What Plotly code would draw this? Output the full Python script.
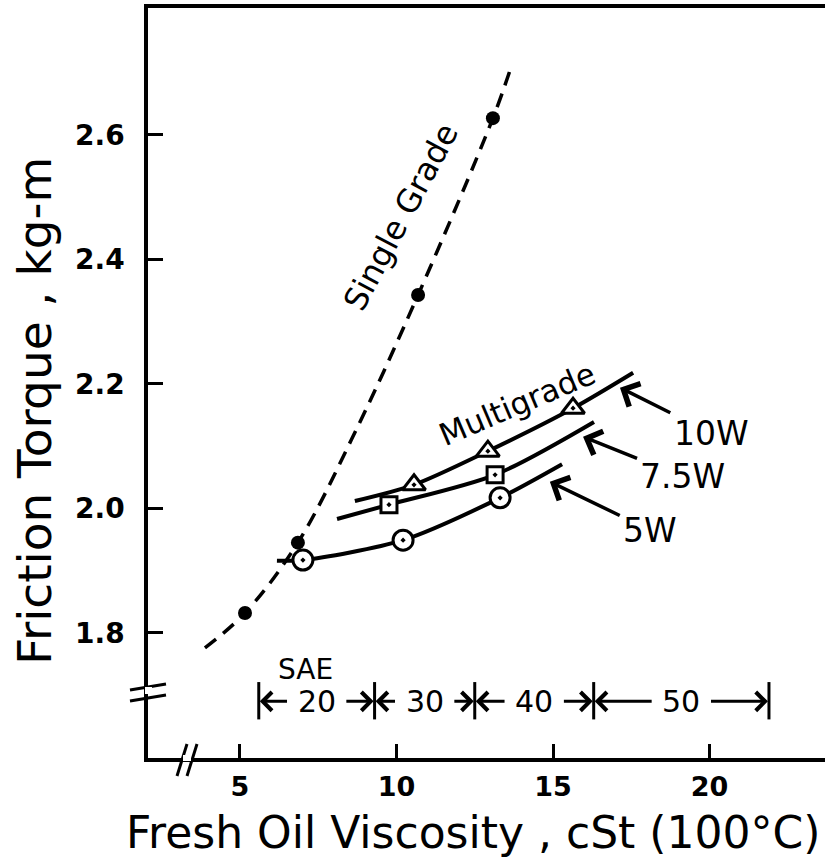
import plotly.graph_objects as go

# ---------------- data ----------------
single_pts_x = [5.16, 6.85, 10.69, 13.08]
single_pts_y = [1.832, 1.945, 2.343, 2.627]
single_curve_x = [3.88, 5.16, 6.85, 8.70, 10.69, 13.08, 13.66]
single_curve_y = [1.776, 1.832, 1.945, 2.125, 2.343, 2.627, 2.709]

w5_curve_x = [6.18, 7.01, 10.21, 13.31, 15.29]
w5_curve_y = [1.916, 1.917, 1.949, 2.017, 2.071]
w5_pts_x = [7.01, 10.21, 13.31]
w5_pts_y = [1.917, 1.949, 2.017]

w75_curve_x = [8.10, 9.76, 13.15, 16.31]
w75_curve_y = [1.983, 2.006, 2.054, 2.139]
w75_pts_x = [9.76, 13.15]
w75_pts_y = [2.006, 2.054]

w10_curve_x = [8.67, 10.56, 12.92, 15.64, 17.56]
w10_curve_y = [2.012, 2.038, 2.092, 2.161, 2.218]
w10_pts_x = [10.56, 12.92, 15.64]
w10_pts_y = [2.038, 2.092, 2.161]

# arrow labels: (text, head x, head y, label x, label y)
grade_labels = ["10W", "7.5W", "5W"]
grade_head_x = [17.14, 15.96, 14.90]
grade_head_y = [2.194, 2.115, 2.043]
grade_text_x = [20.05, 19.15, 18.10]
grade_text_y = [2.121, 2.051, 1.965]

sae_grades = ["20", "30", "40", "50"]
sae_bounds = [5.6, 9.3, 12.5, 16.3, 21.9]
sae_row_y = 1.690

x_ticks = [5, 10, 15, 20]
y_ticks = [1.8, 2.0, 2.2, 2.4, 2.6]
y_ticklabels = ["1.8", "2.0", "2.2", "2.4", "2.6"]

FONT = "DejaVu Sans"
BLACK = "black"

fig = go.Figure()

fig.add_trace(go.Scatter(x=single_curve_x, y=single_curve_y, mode="lines",
                         line=dict(color=BLACK, width=3.5, dash="14px,9px", shape="spline", smoothing=1.0),
                         hoverinfo="skip"))
fig.add_trace(go.Scatter(x=single_pts_x, y=single_pts_y, mode="markers",
                         marker=dict(symbol="circle", size=14, color=BLACK)))

for cx, cy in [(w5_curve_x, w5_curve_y), (w75_curve_x, w75_curve_y), (w10_curve_x, w10_curve_y)]:
    fig.add_trace(go.Scatter(x=cx, y=cy, mode="lines",
                             line=dict(color=BLACK, width=4, shape="spline", smoothing=0.8)))

for px_, py_, sym, sz in [(w5_pts_x, w5_pts_y, "circle-dot", 20),
                          (w75_pts_x, w75_pts_y, "square-dot", 16),
                          (w10_pts_x, w10_pts_y, "triangle-up-dot", 20)]:
    fig.add_trace(go.Scatter(x=px_, y=py_, mode="markers",
                             marker=dict(symbol=sym, size=sz, color="white",
                                         line=dict(color=BLACK, width=3))))

ann = []
# grade arrows
for t, hx, hy, tx, ty in zip(grade_labels, grade_head_x, grade_head_y, grade_text_x, grade_text_y):
    ann.append(dict(x=hx, y=hy, ax=tx, ay=ty, xref="x", yref="y", axref="x", ayref="y",
                    text=t, showarrow=True, arrowhead=4, arrowsize=1.4, arrowwidth=3.5,
                    arrowcolor=BLACK, standoff=0, startstandoff=2,
                    font=dict(family=FONT, size=33, color=BLACK)))

# SAE row
for i, g in enumerate(sae_grades):
    a, b = sae_bounds[i], sae_bounds[i + 1]
    m = (a + b) / 2
    ann.append(dict(x=m, y=sae_row_y, xref="x", yref="y", text=g, showarrow=False,
                    font=dict(family=FONT, size=30, color=BLACK)))
    for edge, tail in [(a, m - 0.9), (b, m + 0.9)]:
        ann.append(dict(x=edge, y=sae_row_y, ax=tail, ay=sae_row_y, xref="x", yref="y",
                        axref="x", ayref="y", text="", showarrow=True, arrowhead=4,
                        arrowsize=1.2, arrowwidth=3, arrowcolor=BLACK, standoff=1))
ann.append(dict(x=7.1, y=1.742, xref="x", yref="y", text="SAE", showarrow=False,
                font=dict(family=FONT, size=28, color=BLACK)))

ann.append(dict(x=10.14, y=2.468, xref="x", yref="y", text="Single Grade", showarrow=False,
                textangle=-62, font=dict(family=FONT, size=32, color=BLACK)))
ann.append(dict(x=13.85, y=2.168, xref="x", yref="y", text="Multigrade", showarrow=False,
                textangle=-23, font=dict(family=FONT, size=31, color=BLACK)))

# axis titles
ann.append(dict(x=0.48, y=-0.0987, xref="paper", yref="paper", xanchor="center", yanchor="middle",
                text="Fresh Oil Viscosity , cSt (100°C)",
                showarrow=False, font=dict(family=FONT, size=44, color=BLACK)))
ann.append(dict(x=-0.167, y=0.463, xref="paper", yref="paper", xanchor="center", yanchor="middle",
                text="Friction Torque , kg-m",
                showarrow=False, textangle=-90, font=dict(family=FONT, size=47, color=BLACK)))

shapes = []
# SAE dividers
for bnd in sae_bounds:
    shapes.append(dict(type="line", xref="x", yref="y", x0=bnd, x1=bnd, y0=1.661, y1=1.721,
                       line=dict(color=BLACK, width=3)))

W, H, L, T = 677.0, 750.0, 148.0, 8.0
def px(xp):
    return (xp - L) / W
def py(yp):
    return (T + H - yp) / H

# axis break marks
for off in (0, 11):
    shapes.append(dict(type="line", xref="paper", yref="paper",
                       x0=px(130), y0=py(690 + off), x1=px(166), y1=py(684 + off),
                       line=dict(color=BLACK, width=3)))
shapes.append(dict(type="rect", xref="paper", yref="paper", x0=px(145), x1=px(152),
                   y0=py(694), y1=py(687), fillcolor="white", line=dict(width=0)))
for off in (0, 10):
    shapes.append(dict(type="line", xref="paper", yref="paper",
                       x0=px(177 + off), y0=py(776), x1=px(187 + off), y1=py(744),
                       line=dict(color=BLACK, width=3)))
shapes.append(dict(type="rect", xref="paper", yref="paper", x0=px(183), x1=px(191),
                   y0=py(761), y1=py(755), fillcolor="white", line=dict(width=0)))

fig.update_layout(
    width=825, height=866, margin=dict(l=148, r=0, t=8, b=108),
    paper_bgcolor="white", plot_bgcolor="white", showlegend=False,
    annotations=ann, shapes=shapes,
    xaxis=dict(range=[2.061, 23.69], showgrid=False, zeroline=False, showline=True,
               linecolor=BLACK, linewidth=3.5, mirror=True, ticks="inside", ticklen=14,
               tickwidth=3, tickcolor=BLACK, tickvals=x_ticks, ticklabelstandoff=2,
               tickfont=dict(family=FONT, size=27, color=BLACK, weight="bold")),
    yaxis=dict(range=[1.599, 2.804], showgrid=False, zeroline=False, showline=True,
               linecolor=BLACK, linewidth=3.5, ticks="inside", ticklen=15, tickwidth=3,
               tickcolor=BLACK, tickvals=y_ticks, ticktext=y_ticklabels, ticklabelstandoff=14,
               tickfont=dict(family=FONT, size=28, color=BLACK, weight="bold")),
)

fig.write_html("out.html")
